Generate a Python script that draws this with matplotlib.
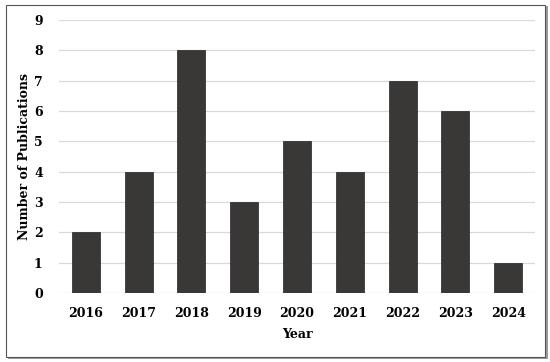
import matplotlib
matplotlib.use('Agg')
import matplotlib.pyplot as plt
import matplotlib.patches as mpatches

years = ['2016', '2017', '2018', '2019', '2020', '2021', '2022', '2023', '2024']
counts = [2, 4, 8, 3, 5, 4, 7, 6, 1]

BAR = '#3a3836'
GRID = '#d9d9d9'

plt.rcParams.update({'font.family': 'DejaVu Serif', 'font.weight': 'bold'})

fig = plt.figure(figsize=(5.5, 3.62), dpi=100)
fig.patch.set_facecolor('white')

# framed border with a soft shadow on right/bottom
shadow = mpatches.Rectangle((0.014, 0.008), 0.982, 0.975, transform=fig.transFigure,
                            facecolor='#9a9a9a', edgecolor='none', zorder=0)
frame = mpatches.Rectangle((0.011, 0.013), 0.980, 0.972, transform=fig.transFigure,
                           facecolor='white', edgecolor='#555555', linewidth=0.8, zorder=1)
fig.patches.extend([shadow, frame])

ax = fig.add_axes([0.108, 0.19, 0.864, 0.755])
ax.set_facecolor('none')
ax.set_zorder(2)
x = range(len(years))
ax.bar(x, counts, width=0.53, color=BAR, edgecolor='#222222', linewidth=0.5, zorder=3)
ax.set_xticks(list(x))
ax.set_xticklabels(years, fontsize=9, fontweight='bold')
ax.set_xlim(-0.5, len(years) - 0.5)
ax.set_ylim(0, 9)
ax.set_yticks(range(0, 10))
ax.tick_params(axis='y', labelsize=9, length=0, pad=12)
ax.tick_params(axis='x', length=0, pad=10)
for lab in ax.get_yticklabels():
    lab.set_fontweight('bold')
ax.yaxis.grid(True, color=GRID, linewidth=0.9)
ax.set_axisbelow(True)
for s in ax.spines.values():
    s.set_visible(False)
ax.set_xlabel('Year', fontsize=9, fontweight='bold', labelpad=6)
ax.set_ylabel('Number of Publications', fontsize=9, fontweight='bold', labelpad=2)

fig.savefig('out.png', dpi=100, facecolor='white')
